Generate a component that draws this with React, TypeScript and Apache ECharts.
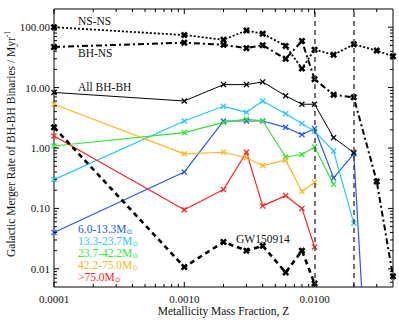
import React, { useEffect, useRef } from 'react';
import * as echarts from 'echarts';

// Metallicity grid (x values)
const Z = [0.0001, 0.001, 0.002, 0.003, 0.004, 0.006, 0.008, 0.01, 0.014, 0.02, 0.03, 0.04];

// Series values (Myr^-1), null where no point
const nsns = [100, 74, 62, 88, 78, 49, 20.7, 42.5, 35, 52, 41, 33];
const bhns = [47, 55.5, 51, 45, 50, 30, 59, 13.8, 7.6, 6.9, 0.28, 0.0075];
const allBhBh = [8.3, 6.0, 11.2, 11.2, 12.4, 7.3, 5.3, 5.3, 1.48, 0.84, null, null];
const m6to13 = [0.04, 0.4, 2.8, 2.8, 2.8, 2.2, 1.66, 2.1, 0.32, 0.8, 2.7e-7, null];
const m13to24 = [0.3, 2.8, 4.9, 3.9, 6.0, 3.7, 2.55, 1.9, 0.89, 0.057, null, null];
const m24to42 = [1.08, 1.8, 2.65, 3.0, 2.8, 0.71, 0.78, 1.04, 0.25, null, null, null];
const m42to75 = [5.3, 0.8, 0.85, 0.69, 0.51, 0.63, 0.19, 0.27, null, null, null, null];
const m75plus = [1.58, 0.095, 0.205, 0.85, 0.11, 0.163, 0.1, 0.023, null, null, null, null];
const gw150914 = [2.2, 0.0107, 0.0278, 0.02, 0.024, 0.0087, 0.02, 0.0057, null, null, null, null];

// Reference vertical lines
const refZ = [0.014, 0.02];

// Tick values
const xMajorTicks = [0.0001, 0.001, 0.01];
const xMinorTicks = [0.0002, 0.0003, 0.0004, 0.0005, 0.0006, 0.0007, 0.0008, 0.0009,
  0.002, 0.003, 0.004, 0.005, 0.006, 0.007, 0.008, 0.009, 0.02, 0.03];
const yMajorTicks = [0.01, 0.1, 1, 10, 100];
const yMinorTicks = [0.006, 0.007, 0.008, 0.009,
  0.02, 0.03, 0.04, 0.05, 0.06, 0.07, 0.08, 0.09,
  0.2, 0.3, 0.4, 0.5, 0.6, 0.7, 0.8, 0.9,
  2, 3, 4, 5, 6, 7, 8, 9,
  20, 30, 40, 50, 60, 70, 80, 90];

const legendItems = ['6.0-13.3M', '13.3-23.7M', '23.7-42.2M', '42.2-75.0M', '>75.0M'];
const COLORS = ['#2358ee', '#22c8ff', '#33e633', '#ffb520', '#ff2424'];

const FONT = '"Liberation Serif", "Times New Roman", serif';
const X_THIN = 'path://M0,1.5L1.5,0L5,3.5L8.5,0L10,1.5L6.5,5L10,8.5L8.5,10L5,6.5L1.5,10L0,8.5L3.5,5Z';
const X_BOLD = 'path://M0,2.6L2.6,0L5,2.4L7.4,0L10,2.6L7.6,5L10,7.4L7.4,10L5,7.6L2.6,10L0,7.4L2.4,5Z';

function mk(name: string, vals: (number | null)[], color: string, width: number, type: any, symbol: string, size: number, z = 3) {
  return {
    type: 'line',
    name,
    data: Z.map((x, i) => [x, vals[i]]).filter((d) => d[1] != null),
    lineStyle: { color, width, type },
    itemStyle: { color, borderWidth: 0 },
    symbol,
    symbolSize: size,
    showSymbol: true,
    clip: true,
    silent: true,
    z,
  };
}

export default function App() {
  const ref = useRef<HTMLDivElement>(null);
  useEffect(() => {
    document.body.style.margin = '0';
    const chart = echarts.init(ref.current!, null, { renderer: 'svg' });

    const tickStyle = { stroke: '#000', lineWidth: 1 };
    const xTickSeries = {
      type: 'custom',
      silent: true,
      z: 10,
      data: [...xMajorTicks.map((v) => [v, 1, 1]), ...xMinorTicks.map((v) => [v, 1, 0])],
      encode: { x: 0, y: 1 },
      renderItem: (params: any, api: any) => {
        const cs = params.coordSys;
        const p = api.coord([api.value(0), api.value(1)]);
        const L = api.value(2) ? 5 : 3;
        const b = cs.y + cs.height;
        return {
          type: 'group',
          children: [
            { type: 'line', shape: { x1: p[0], y1: b, x2: p[0], y2: b - L }, style: tickStyle },
            { type: 'line', shape: { x1: p[0], y1: cs.y, x2: p[0], y2: cs.y + L }, style: tickStyle },
          ],
        };
      },
    };
    const yTickSeries = {
      type: 'custom',
      silent: true,
      z: 10,
      data: [...yMajorTicks.map((v) => [0.001, v, 1]), ...yMinorTicks.map((v) => [0.001, v, 0])],
      encode: { x: 0, y: 1 },
      renderItem: (params: any, api: any) => {
        const cs = params.coordSys;
        const p = api.coord([api.value(0), api.value(1)]);
        const L = api.value(2) ? 5 : 3;
        const r = cs.x + cs.width;
        return {
          type: 'group',
          children: [
            { type: 'line', shape: { x1: cs.x, y1: p[1], x2: cs.x + L, y2: p[1] }, style: tickStyle },
            { type: 'line', shape: { x1: r, y1: p[1], x2: r - L, y2: p[1] }, style: tickStyle },
          ],
        };
      },
    };

    const nsnsSeries: any = mk('NS-NS', nsns, '#000', 1.8, [2, 2], X_BOLD, 7, 4);
    nsnsSeries.markLine = {
      silent: true,
      symbol: ['none', 'none'],
      label: { show: false },
      lineStyle: { color: '#444', width: 1.5, type: [5, 4] },
      data: refZ.map((v) => ({ xAxis: v })),
    };

    const textBase = { fontFamily: FONT, fontSize: 11.5, fill: '#111', verticalAlign: 'middle', align: 'left' };

    const legendGraphics = legendItems.map((t, i) => ({
      type: 'text',
      x: 78,
      y: 229 + i * 12,
      style: {
        text: `{a|${t}}{s|⊙}`,
        verticalAlign: 'middle',
        align: 'left',
        rich: {
          a: { fontFamily: FONT, fontSize: 11.5, fill: COLORS[i], color: COLORS[i], lineHeight: 12, verticalAlign: 'top' },
          s: { fontFamily: '"DejaVu Sans", sans-serif', fontSize: 7, fill: COLORS[i], color: COLORS[i], lineHeight: 7, verticalAlign: 'bottom' },
        },
      },
    }));

    chart.setOption({
      animation: false,
      grid: { left: 54, right: 6, top: 9, bottom: 39, show: true, borderColor: '#000', borderWidth: 1, backgroundColor: 'transparent' },
      xAxis: {
        type: 'log',
        logBase: 10,
        min: 0.0001,
        max: 0.04,
        axisLine: { show: false },
        axisTick: { show: false },
        splitLine: { show: false },
        minorTick: { show: false },
        axisLabel: {
          fontFamily: FONT,
          fontSize: 11,
          color: '#111',
          margin: 6,
          showMaxLabel: false,
          formatter: (v: number) => v.toFixed(4),
        },
      },
      yAxis: {
        type: 'log',
        logBase: 10,
        min: 0.005,
        max: 200,
        axisLine: { show: false },
        axisTick: { show: false },
        splitLine: { show: false },
        minorTick: { show: false },
        axisLabel: {
          fontFamily: FONT,
          fontSize: 11,
          color: '#111',
          margin: 4,
          showMinLabel: false,
          showMaxLabel: false,
          formatter: (v: number) => v.toFixed(2),
        },
      },
      series: [
        nsnsSeries,
        mk('BH-NS', bhns, '#000', 2, [6, 3, 2, 3], X_BOLD, 7, 4),
        mk('All BH-BH', allBhBh, '#000', 1, 'solid', X_THIN, 6, 4),
        mk('6.0-13.3', m6to13, COLORS[0], 1.2, 'solid', X_THIN, 6),
        mk('13.3-23.7', m13to24, COLORS[1], 1.2, 'solid', X_THIN, 6),
        mk('23.7-42.2', m24to42, COLORS[2], 1.2, 'solid', X_THIN, 6),
        mk('42.2-75.0', m42to75, COLORS[3], 1.2, 'solid', X_THIN, 6),
        mk('>75.0', m75plus, COLORS[4], 1.2, 'solid', X_THIN, 6),
        mk('GW150914', gw150914, '#000', 2.6, [5, 4], X_BOLD, 7, 4),
        xTickSeries,
        yTickSeries,
      ],
      graphic: [
        { type: 'text', x: 78, y: 21, style: { ...textBase, text: 'NS-NS' } },
        { type: 'text', x: 78, y: 53, style: { ...textBase, text: 'BH-NS' } },
        { type: 'text', x: 78, y: 87, style: { ...textBase, text: 'All BH-BH' } },
        { type: 'text', x: 236, y: 239, style: { ...textBase, text: 'GW150914' } },
        ...legendGraphics,
        {
          type: 'text',
          x: 223.5,
          y: 311,
          style: { ...textBase, fontSize: 11.5, align: 'center', text: 'Metallicity Mass Fraction, Z' },
        },
        {
          type: 'text',
          x: 10,
          y: 144,
          rotation: Math.PI / 2,
          style: {
            text: '{n|Galactic Merger Rate of BH-BH Binaries / Myr}{p|-1}',
            align: 'center',
            verticalAlign: 'middle',
            rich: {
              n: { fontFamily: FONT, fontSize: 11.5, fill: '#111', color: '#111', lineHeight: 13, verticalAlign: 'bottom' },
              p: { fontFamily: FONT, fontSize: 7.5, fill: '#111', color: '#111', lineHeight: 8, verticalAlign: 'top' },
            },
          },
        },
      ],
    });
    return () => chart.dispose();
  }, []);
  return <div ref={ref} style={{ width: 399, height: 326 }} />;
}
